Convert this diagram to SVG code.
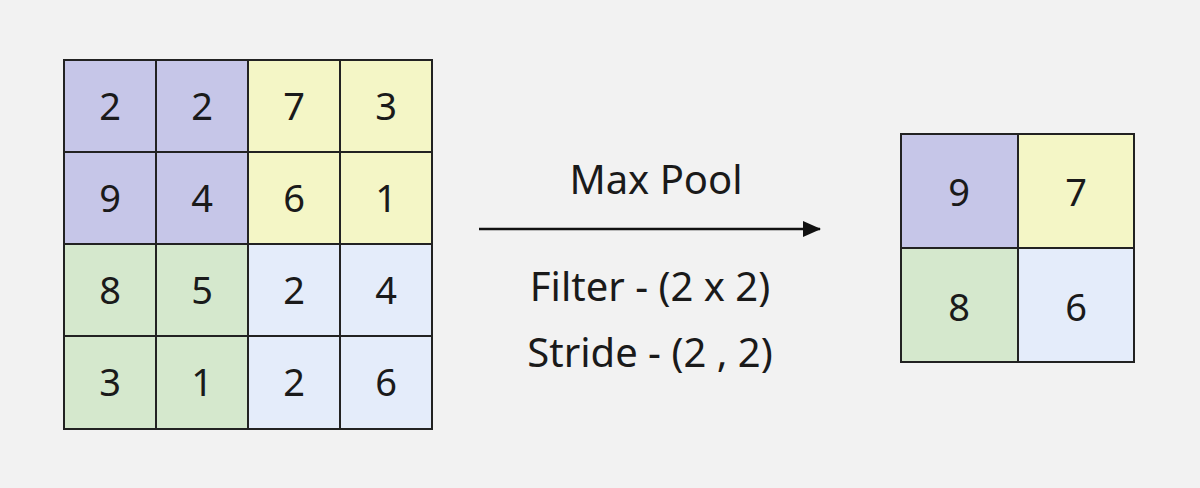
<svg xmlns="http://www.w3.org/2000/svg" width="1200" height="488" viewBox="0 0 1200 488">
<style>
.c{stroke:#222;stroke-width:2}
.p{fill:#c6c6e8}.y{fill:#f4f6c6}.g{fill:#d5e8cd}.b{fill:#e4ecfa}
text{font-family:"Noto Sans","Liberation Sans",sans-serif;fill:#1a1a1a;text-anchor:middle}
.n{font-size:38px}.l{font-size:40px}
</style>
<defs><marker id="ah" markerWidth="18" markerHeight="18" refX="17" refY="9" orient="auto" markerUnits="userSpaceOnUse" viewBox="0 0 18 18"><path d="M0,1 L18,9 L0,17 z" fill="#111"/></marker></defs>
<rect width="1200" height="488" fill="#f2f2f2"/>
<g id="input">
<rect class="c p" x="64" y="60" width="92" height="92"/><rect class="c p" x="156" y="60" width="92" height="92"/>
<rect class="c y" x="248" y="60" width="92" height="92"/><rect class="c y" x="340" y="60" width="92" height="92"/>
<rect class="c p" x="64" y="152" width="92" height="92"/><rect class="c p" x="156" y="152" width="92" height="92"/>
<rect class="c y" x="248" y="152" width="92" height="92"/><rect class="c y" x="340" y="152" width="92" height="92"/>
<rect class="c g" x="64" y="244" width="92" height="92"/><rect class="c g" x="156" y="244" width="92" height="92"/>
<rect class="c b" x="248" y="244" width="92" height="92"/><rect class="c b" x="340" y="244" width="92" height="92"/>
<rect class="c g" x="64" y="336" width="92" height="93"/><rect class="c g" x="156" y="336" width="92" height="93"/>
<rect class="c b" x="248" y="336" width="92" height="93"/><rect class="c b" x="340" y="336" width="92" height="93"/>
<text class="n" x="110" y="120">2</text><text class="n" x="202" y="120">2</text><text class="n" x="294" y="120">7</text><text class="n" x="386" y="120">3</text>
<text class="n" x="110" y="212">9</text><text class="n" x="202" y="212">4</text><text class="n" x="294" y="212">6</text><text class="n" x="386" y="212">1</text>
<text class="n" x="110" y="304">8</text><text class="n" x="202" y="304">5</text><text class="n" x="294" y="304">2</text><text class="n" x="386" y="304">4</text>
<text class="n" x="110" y="396">3</text><text class="n" x="202" y="396">1</text><text class="n" x="294" y="396">2</text><text class="n" x="386" y="396">6</text>
</g>
<g id="connectors">
<line x1="479" y1="229" x2="820" y2="229" stroke="#111" stroke-width="2.5" marker-end="url(#ah)"/>
</g>
<g id="labels">
<text class="l" x="656" y="194">Max Pool</text>
<text class="l" x="650" y="301">Filter - (2 x 2)</text>
<text class="l" x="650" y="367">Stride - (2 , 2)</text>
</g>
<g id="output">
<rect class="c p" x="901" y="134" width="117" height="114"/><rect class="c y" x="1018" y="134" width="116" height="114"/>
<rect class="c g" x="901" y="248" width="117" height="114"/><rect class="c b" x="1018" y="248" width="116" height="114"/>
<text class="n" x="959" y="206">9</text><text class="n" x="1076" y="206">7</text>
<text class="n" x="959" y="321">8</text><text class="n" x="1076" y="321">6</text>
</g>
</svg>
